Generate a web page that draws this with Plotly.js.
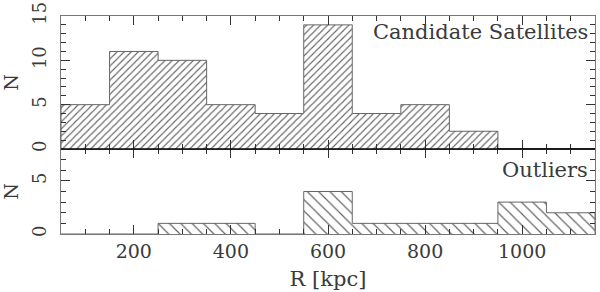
<!DOCTYPE html>
<html>
<head>
<meta charset="utf-8">
<script src="https://cdn.plot.ly/plotly-3.0.1.min.js"></script>
<style>
  body { margin: 0; background: #fff; }
  #chart { width: 600px; height: 292px; }
</style>
</head>
<body>
<div id="chart"></div>
<script>
// bin edges in kpc, 100 kpc wide
let binEdges = [50, 150, 250, 350, 450, 550, 650, 750, 850, 950, 1050, 1150];
let binCenters = [100, 200, 300, 400, 500, 600, 700, 800, 900, 1000, 1100];

let satelliteCounts = [5, 11, 10, 5, 4, 14, 4, 5, 2, 0, 0];
let outlierCounts = [0, 0, 1, 1, 0, 4, 1, 1, 1, 3, 2];

let serif = "DejaVu Serif, Liberation Serif, serif";
let frameColor = '#777';
let hatchColor = '#666';
let textColor = '#3a3a3a';

// outline of the histogram as a step line
function stepOutline(counts) {
  let xs = [binEdges[0]];
  let ys = [0];
  for (let i = 0; i < counts.length; i++) {
    xs.push(binEdges[i], binEdges[i + 1]);
    ys.push(counts[i], counts[i]);
  }
  xs.push(binEdges[binEdges.length - 1]);
  ys.push(0);
  return {x: xs, y: ys};
}

let satOutline = stepOutline(satelliteCounts);
let outOutline = stepOutline(outlierCounts);

let traces = [
  {
    x: binCenters, y: satelliteCounts, type: 'bar', width: 100,
    xaxis: 'x2', yaxis: 'y2', hoverinfo: 'skip',
    marker: {
      color: 'white', line: {width: 0},
      pattern: {shape: '/', size: 5, solidity: 0.22, fgcolor: hatchColor, bgcolor: 'white'}
    }
  },
  {
    x: satOutline.x, y: satOutline.y, type: 'scatter', mode: 'lines',
    xaxis: 'x2', yaxis: 'y2', line: {color: hatchColor, width: 1}
  },
  {
    x: binCenters, y: outlierCounts, type: 'bar', width: 100,
    xaxis: 'x', yaxis: 'y', hoverinfo: 'skip',
    marker: {
      color: 'white', line: {width: 0},
      pattern: {shape: '\\', size: 8, solidity: 0.15, fgcolor: hatchColor, bgcolor: 'white'}
    }
  },
  {
    x: outOutline.x, y: outOutline.y, type: 'scatter', mode: 'lines',
    xaxis: 'x', yaxis: 'y', line: {color: hatchColor, width: 1}
  }
];

let xCommon = {
  range: [50, 1150],
  showline: true, linecolor: frameColor, linewidth: 1,
  mirror: 'ticks', ticks: 'inside', ticklen: 9, tickcolor: '#333',
  tick0: 0, dtick: 200,
  minor: {ticks: 'inside', dtick: 50, tick0: 0, ticklen: 5, tickcolor: '#333', showgrid: false},
  showgrid: false, zeroline: false
};

let yCommon = {
  showline: true, linecolor: frameColor, linewidth: 1,
  mirror: 'ticks', ticks: 'inside', ticklen: 9, tickcolor: '#333',
  tick0: 0, dtick: 5,
  minor: {ticks: 'inside', dtick: 1, ticklen: 5, tickcolor: '#333', showgrid: false},
  showgrid: false, zeroline: false,
  tickangle: -90, ticklabelstandoff: 7,
  tickfont: {family: serif, size: 18, color: textColor}
};

let layout = {
  width: 600, height: 292,
  margin: {l: 61, r: 5, t: 16, b: 58},
  paper_bgcolor: 'white', plot_bgcolor: 'white',
  showlegend: false, bargap: 0,
  font: {family: serif, color: textColor},
  xaxis: Object.assign({}, xCommon, {
    anchor: 'y', domain: [0, 1],
    tickfont: {family: serif, size: 19, color: textColor},
    title: {text: 'R [kpc]', font: {family: serif, size: 21, color: textColor}, standoff: 10}
  }),
  xaxis2: Object.assign({}, xCommon, {
    anchor: 'y2', matches: 'x', showticklabels: false
  }),
  yaxis: Object.assign({}, yCommon, {
    anchor: 'x', domain: [0, 0.39], range: [0, 8],
    title: {text: 'N', font: {family: serif, size: 19, color: textColor}, standoff: 12}
  }),
  yaxis2: Object.assign({}, yCommon, {
    anchor: 'x2', domain: [0.39, 1], range: [0, 15],
    title: {text: 'N', font: {family: serif, size: 19, color: textColor}, standoff: 12}
  }),
  shapes: [
    {type: 'line', xref: 'paper', yref: 'paper', x0: 0, x1: 1, y0: 0.39, y1: 0.39,
     line: {color: 'black', width: 1.5}}
  ],
  annotations: [
    {text: 'Candidate Satellites', xref: 'paper', yref: 'paper', x: 0.99, y: 0.99,
     xanchor: 'right', yanchor: 'top', showarrow: false,
     font: {family: serif, size: 21, color: textColor}},
    {text: 'Outliers', xref: 'paper', yref: 'paper', x: 0.99, y: 0.36,
     xanchor: 'right', yanchor: 'top', showarrow: false,
     font: {family: serif, size: 21, color: textColor}}
  ]
};

Plotly.newPlot('chart', traces, layout, {staticPlot: true});
</script>
</body>
</html>
